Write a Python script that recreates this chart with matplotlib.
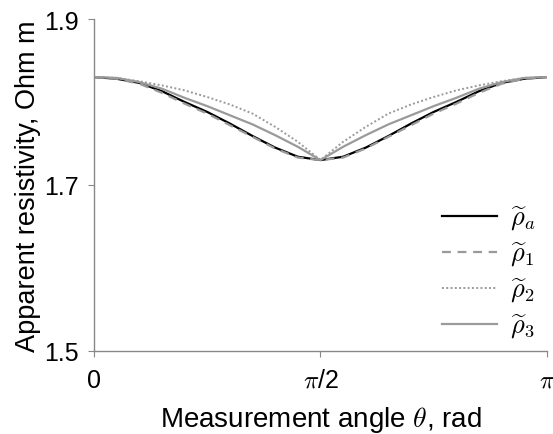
import numpy as np
from matplotlib import pyplot as plt

# angle as a fraction of pi
theta_frac = [0.00, 0.05, 0.10, 0.15, 0.20, 0.25, 0.30, 0.35, 0.40, 0.45, 0.50,
              0.55, 0.60, 0.65, 0.70, 0.75, 0.80, 0.85, 0.90, 0.95, 1.00]

rho_a = [1.830, 1.828, 1.823, 1.813, 1.800, 1.788, 1.774, 1.759, 1.745, 1.734, 1.730,
         1.734, 1.745, 1.759, 1.774, 1.788, 1.800, 1.813, 1.823, 1.828, 1.830]
rho_1 = [1.830, 1.828, 1.822, 1.811, 1.798, 1.786, 1.772, 1.758, 1.744, 1.733, 1.730,
         1.733, 1.744, 1.758, 1.772, 1.786, 1.798, 1.811, 1.822, 1.828, 1.830]
rho_2 = [1.830, 1.829, 1.825, 1.820, 1.814, 1.806, 1.797, 1.786, 1.770, 1.752, 1.730,
         1.752, 1.770, 1.786, 1.797, 1.806, 1.814, 1.820, 1.825, 1.829, 1.830]
rho_3 = [1.830, 1.829, 1.824, 1.816, 1.805, 1.795, 1.784, 1.773, 1.760, 1.746, 1.730,
         1.746, 1.760, 1.773, 1.784, 1.795, 1.805, 1.816, 1.824, 1.829, 1.830]

labels = [r"$\widetilde{\rho}_a$", r"$\widetilde{\rho}_1$",
          r"$\widetilde{\rho}_2$", r"$\widetilde{\rho}_3$"]

plt.rcParams['font.family'] = ['Liberation Sans', 'DejaVu Sans']
plt.rcParams['mathtext.fontset'] = 'cm'

gray = "#9a9a9a"

def main():
    fig = plt.figure(figsize=(5.53, 4.35), dpi=100)
    ax = fig.add_axes([0.170, 0.191, 0.819, 0.763])

    x = np.array(theta_frac) * np.pi
    ax.plot(x, rho_a, color="black", lw=1.6, label=labels[0])
    ax.plot(x, rho_1, color=gray, lw=1.6, ls=(0, (4, 3)), label=labels[1])
    ax.plot(x, rho_2, color=gray, lw=1.4, ls=(0, (1, 1.2)), label=labels[2])
    ax.plot(x, rho_3, color=gray, lw=1.6, label=labels[3])

    ax.set_xlim(0, np.pi)
    ax.set_ylim(1.5, 1.9)
    ax.set_xticks([0, np.pi / 2, np.pi])
    ax.set_xticklabels(["0", r"$\pi$/2", r"$\pi$"])
    ax.set_yticks([1.5, 1.7, 1.9])
    ax.set_yticklabels(["1.5", "1.7", "1.9"])

    for side in ["top", "right"]:
        ax.spines[side].set_visible(False)
    for side in ["left", "bottom"]:
        ax.spines[side].set_color("#888888")
        ax.spines[side].set_linewidth(1.0)
    ax.tick_params(axis='both', direction='out', length=4, color="#888888",
                   labelsize=18)
    ax.tick_params(axis='y', pad=7)
    ax.tick_params(axis='x', pad=8)

    ax.set_xlabel(r"Measurement angle $\theta$, rad", fontsize=20, labelpad=9)
    ax.set_ylabel("Apparent resistivity, Ohm m", fontsize=19.5, labelpad=2)

    ax.legend(loc="lower right", frameon=False, fontsize=19, handlelength=2.1,
              handletextpad=0.5, labelspacing=0.3, borderaxespad=0.0,
              bbox_to_anchor=(1.0, 0.0))

    plt.savefig("out.png", dpi=100)

if __name__ == "__main__":
    main()
